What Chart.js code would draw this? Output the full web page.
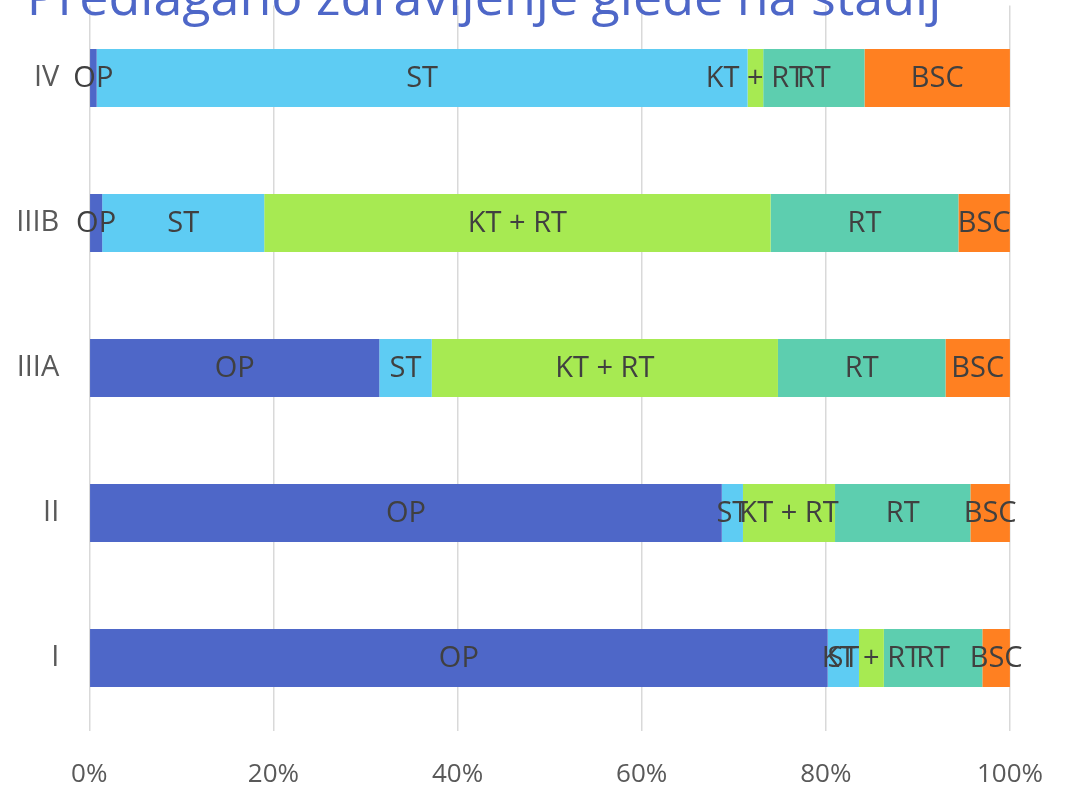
<!DOCTYPE html>
<html>
<head>
<meta charset="utf-8">
<script src="https://cdn.jsdelivr.net/npm/chart.js@4.4.0/dist/chart.umd.min.js"></script>
<style>
  html, body { margin: 0; padding: 0; background: #fff; }
  #wrap { width: 1071px; height: 786px; }
</style>
</head>
<body>
<div id="wrap"><canvas id="stadijChart" width="1071" height="786"></canvas></div>
<script>
// Podatki (od zgoraj navzdol)
const stadiji = ['IV', 'IIIB', 'IIIA', 'II', 'I'];
const opValues = [0.8, 1.4, 31.5, 68.7, 80.2];
const stValues = [70.7, 17.6, 5.7, 2.3, 3.4];
const ktRtValues = [1.7, 55.0, 37.6, 10.0, 2.7];
const rtValues = [11.0, 20.4, 18.2, 14.7, 10.7];
const bscValues = [15.8, 5.6, 7.0, 4.3, 3.0];
const xTicks = [0, 20, 40, 60, 80, 100];
const naslov = 'Predlagano zdravljenje glede na stadij';

const fontName = '"Open Sans", "Noto Sans", sans-serif';

// naslov (v originalu je odrezan na vrhu)
const titlePlugin = {
    id: 'titlePlugin',
    afterDraw(chart) {
        const ctx = chart.ctx;
        ctx.save();
        ctx.font = '52px ' + fontName;
        ctx.fillStyle = '#4E67C8';
        ctx.textAlign = 'center';
        ctx.textBaseline = 'alphabetic';
        ctx.fillText(naslov, 484, 15);
        ctx.restore();
    }
};

// oznake v sredini vsakega segmenta
const segmentLabels = {
    id: 'segmentLabels',
    afterDatasetsDraw(chart) {
        const ctx = chart.ctx;
        ctx.save();
        ctx.font = '29px ' + fontName;
        ctx.fillStyle = '#404040';
        ctx.textAlign = 'center';
        ctx.textBaseline = 'middle';
        chart.data.datasets.forEach((ds, i) => {
            chart.getDatasetMeta(i).data.forEach(bar => {
                ctx.fillText(ds.label, (bar.x + bar.base) / 2, bar.y + 1);
            });
        });
        ctx.restore();
    }
};

const ctx = document.getElementById('stadijChart').getContext('2d');
const stadijChart = new Chart(ctx, {
    type: 'bar',
    data: {
        labels: stadiji,
        datasets: [
            { label: 'OP', data: opValues, backgroundColor: '#4E67C8' },
            { label: 'ST', data: stValues, backgroundColor: '#5ECCF3' },
            { label: 'KT + RT', data: ktRtValues, backgroundColor: '#A7EA52' },
            { label: 'RT', data: rtValues, backgroundColor: '#5DCEAF' },
            { label: 'BSC', data: bscValues, backgroundColor: '#FF8021' }
        ]
    },
    options: {
        indexAxis: 'y',
        responsive: false,
        animation: false,
        categoryPercentage: 0.8,
        barPercentage: 0.5,
        layout: { autoPadding: false, padding: { top: 5.5, left: 0, right: 59, bottom: 0 } },
        plugins: {
            legend: { display: false },
            title: { display: false },
            tooltip: { enabled: false }
        },
        scales: {
            x: {
                stacked: true,
                min: 0,
                max: 100,
                afterBuildTicks: scale => { scale.ticks = xTicks.map(v => ({ value: v })); },
                afterFit: scale => { scale.height = 55.5; },
                grid: { color: '#D9D9D9', lineWidth: 1.5, drawTicks: false },
                border: { display: false },
                ticks: {
                    callback: v => v + '%',
                    color: '#595959',
                    font: { family: fontName, size: 26 },
                    padding: 28,
                    maxRotation: 0
                }
            },
            y: {
                stacked: true,
                afterFit: scale => {
                    scale.width = 89.3;
                    scale.paddingTop = 0;
                    scale.paddingBottom = 0;
                },
                grid: { display: false, drawTicks: false },
                border: { display: false },
                ticks: {
                    color: '#595959',
                    font: { family: fontName, size: 29 },
                    padding: 30
                }
            }
        }
    },
    plugins: [titlePlugin, segmentLabels]
});
</script>
</body>
</html>
